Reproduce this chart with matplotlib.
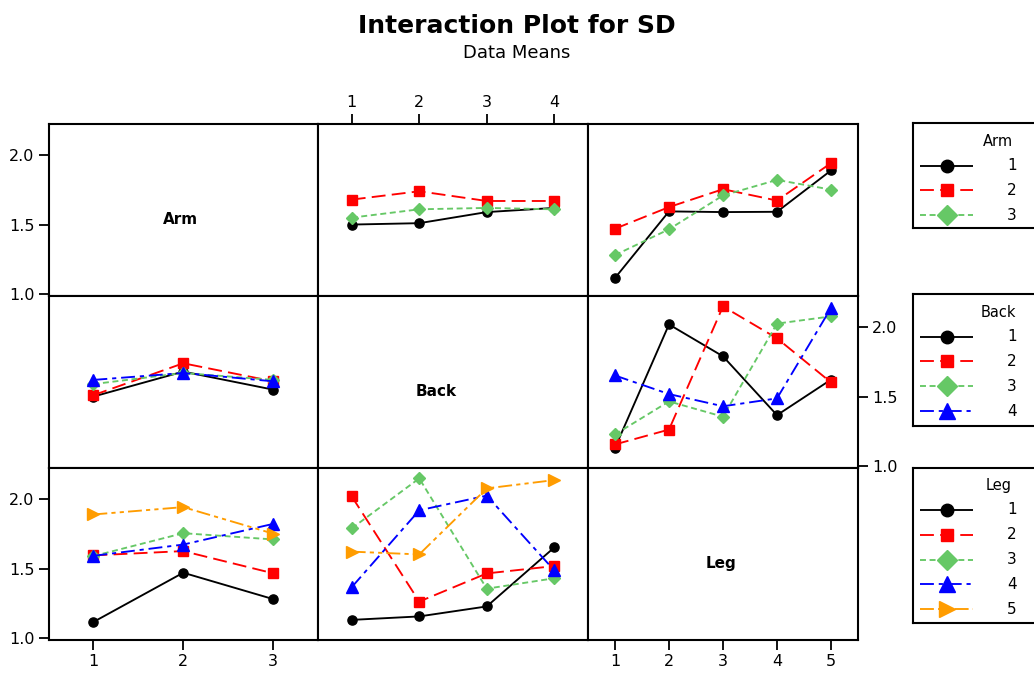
import matplotlib
matplotlib.use("Agg")
import matplotlib.pyplot as plt
from matplotlib.lines import Line2D

plt.rcParams["font.family"] = ["DejaVu Sans"]
plt.rcParams["lines.scale_dashes"] = False

# Factor levels
arm_levels = [1, 2, 3]
back_levels = [1, 2, 3, 4]
leg_levels = [1, 2, 3, 4, 5]

# Cell means of SD for each pair of factors (rows: first factor level)
arm_back = [
    [1.50, 1.51, 1.59, 1.62],
    [1.68, 1.74, 1.67, 1.67],
    [1.55, 1.61, 1.62, 1.61],
]
arm_leg = [
    [1.115, 1.595, 1.590, 1.592, 1.890],
    [1.470, 1.626, 1.755, 1.673, 1.943],
    [1.280, 1.466, 1.710, 1.822, 1.752],
]
back_leg = [
    [1.130, 2.020, 1.790, 1.366, 1.622],
    [1.155, 1.262, 2.150, 1.920, 1.602],
    [1.227, 1.465, 1.355, 2.026, 2.078],
    [1.652, 1.518, 1.430, 1.487, 2.138],
]

y_ticks = [1.0, 1.5, 2.0]
y_tick_labels = ["1.0", "1.5", "2.0"]

# Series styles by level index
colors = ["black", "#ff0000", "#66c866", "#0000ff", "#ff9c00"]
markers = ["o", "s", "D", "^", ">"]
msizes = [6.6, 6.8, 6.2, 9.2, 9.2]
leg_msizes = [9.0, 8.5, 10.0, 11.0, 12.0]
dashes = [None, (10, 4.5), (4.3, 2.6), (10, 3.5, 3, 3.5), (10, 3, 3, 3, 3, 3)]
LW = 1.35

W, H = 1034, 673
fig = plt.figure(figsize=(W / 100, H / 100), dpi=100)

col_x = [48.5, 318, 588, 858]
row_y = [124, 296, 468, 640]
YLIM = (0.985, 2.225)


def px_axes(x0, y0, x1, y1, **kw):
    return fig.add_axes([x0 / W, 1 - y1 / H, (x1 - x0) / W, (y1 - y0) / H], **kw)


def style_line(line, i):
    if dashes[i] is not None:
        line.set_dashes(dashes[i])


def draw_series(ax, xs, table):
    for i, row in enumerate(table):
        ln, = ax.plot(xs, row, color=colors[i], lw=LW, marker=markers[i],
                      ms=msizes[i], mec=colors[i], mfc=colors[i],
                      solid_capstyle="butt", dash_capstyle="butt", zorder=3 + i)
        style_line(ln, i)


def transpose(t):
    return [list(r) for r in zip(*t)]


factors = ["Arm", "Back", "Leg"]
levels = {"Arm": arm_levels, "Back": back_levels, "Leg": leg_levels}
tables = {
    ("Arm", "Back"): arm_back,
    ("Arm", "Leg"): arm_leg,
    ("Back", "Leg"): back_leg,
    ("Back", "Arm"): transpose(arm_back),
    ("Leg", "Arm"): transpose(arm_leg),
    ("Leg", "Back"): transpose(back_leg),
}
label_xfrac = {"Arm": 0.488, "Back": 0.437, "Leg": 0.493}

axes = {}
for r, trace in enumerate(factors):
    for c, xfac in enumerate(factors):
        ax = px_axes(col_x[c], row_y[r], col_x[c + 1], row_y[r + 1])
        axes[(r, c)] = ax
        lv = levels[xfac]
        ax.set_xlim(0.5, len(lv) + 0.5)
        ax.set_ylim(*YLIM)
        for s in ax.spines.values():
            s.set_linewidth(1.5)
        ax.tick_params(which="both", left=False, right=False, top=False,
                       bottom=False, labelleft=False, labelright=False,
                       labeltop=False, labelbottom=False, direction="out",
                       length=7, width=1.3, labelsize=11.5, pad=3)
        if r == c:
            ax.text(label_xfrac[trace], 0.417, trace, transform=ax.transAxes,
                    ha="center", va="baseline", fontsize=11, fontweight="bold")
        else:
            draw_series(ax, lv, tables[(trace, xfac)])
        ax.set_xticks(lv)
        ax.set_xticklabels([str(v) for v in lv])
        ax.set_yticks(y_ticks)
        ax.set_yticklabels(y_tick_labels)

# Alternating axis placement
for r in (0, 2):
    axes[(r, 0)].tick_params(left=True, labelleft=True)
axes[(1, 2)].tick_params(right=True, labelright=True)
axes[(0, 1)].tick_params(top=True, labeltop=True)
axes[(2, 0)].tick_params(bottom=True, labelbottom=True)
axes[(2, 2)].tick_params(bottom=True, labelbottom=True)

# Titles
fig.text(0.5, 1 - 33 / H, "Interaction Plot for SD", ha="center", va="baseline",
         fontsize=18, fontweight="bold")
fig.text(0.5, 1 - 57.5 / H, "Data Means", ha="center", va="baseline", fontsize=13)

# Legend boxes for each trace factor
legend_boxes = [("Arm", 123.3, 228.3), ("Back", 294.3, 426.0), ("Leg", 467.7, 623.3)]
for name, top, bottom in legend_boxes:
    x0, x1 = 912.7, 1050
    lax = px_axes(x0, top, x1, bottom)
    w, h = x1 - x0, bottom - top
    lax.set_xlim(0, w)
    lax.set_ylim(h, 0)
    lax.set_xticks([])
    lax.set_yticks([])
    for s in lax.spines.values():
        s.set_linewidth(1.5)
    lax.text(85.5, 18.2, name, ha="center", va="center", fontsize=10.5)
    for i, lvl in enumerate(levels[name]):
        yy = 42.3 + i * 24.8
        ln = Line2D([7.3, 60.3], [yy, yy], color=colors[i], lw=LW,
                    solid_capstyle="butt", dash_capstyle="butt")
        style_line(ln, i)
        lax.add_line(ln)
        lax.plot([33.8], [yy], linestyle="none", marker=markers[i],
                 ms=leg_msizes[i], color=colors[i])
        lax.text(99, yy, str(lvl), ha="center", va="center", fontsize=11)

fig.savefig("out.png", dpi=100)
